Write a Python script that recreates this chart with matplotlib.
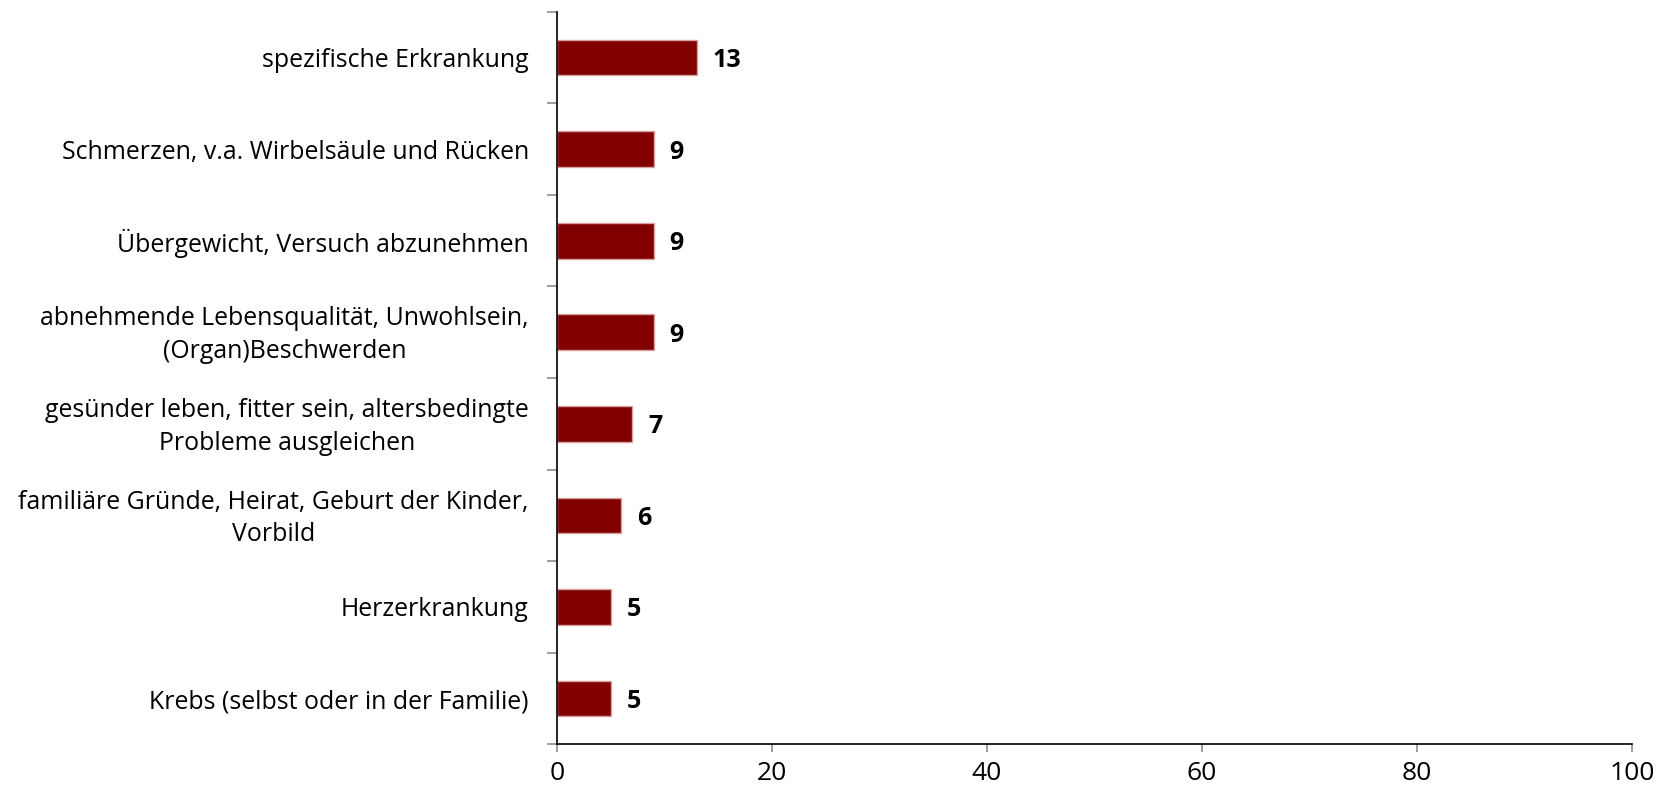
import matplotlib.pyplot as plt

# Gründe für die Verhaltensänderung (Anzahl Nennungen)
categories = [
    "spezifische Erkrankung",
    "Schmerzen, v.a. Wirbelsäule und Rücken",
    "Übergewicht, Versuch abzunehmen",
    "abnehmende Lebensqualität, Unwohlsein,\n(Organ)Beschwerden",
    "gesünder leben, fitter sein, altersbedingte\nProbleme ausgleichen",
    "familiäre Gründe, Heirat, Geburt der Kinder,\nVorbild",
    "Herzerkrankung",
    "Krebs (selbst oder in der Familie)",
]
values = [13, 9, 9, 9, 7, 6, 5, 5]
x_ticks = [0, 20, 40, 60, 80, 100]

BAR_COLOR = "#800000"
FONT = "Open Sans"
plt.rcParams["font.family"] = [FONT, "DejaVu Sans"]

fig = plt.figure(figsize=(16.61, 7.93), dpi=100)
ax = fig.add_axes([0.3352, 0.0614, 0.9824 - 0.3352, 0.9852 - 0.0614])

pos = list(range(len(categories)))
ax.barh(pos, values, height=0.39, color=BAR_COLOR, edgecolor="#d8a0a0", linewidth=1)

for y, v in zip(pos, values):
    ax.annotate(str(v), xy=(v, y), xytext=(16, -3), textcoords="offset pixels",
                ha="left", va="center", fontsize=18, fontweight="bold")

# Kategorienbeschriftungen rechtsbündig, Zeilen untereinander zentriert
for y, label in zip(pos, categories):
    ax.annotate(label, xy=(0, y), xycoords=ax.get_yaxis_transform(),
                xytext=(-28, -3), textcoords="offset pixels",
                ha="right", va="center", multialignment="center",
                fontsize=17.9, linespacing=1.4)

ax.set_xlim(0, 100)
ax.set_ylim(len(categories) - 0.5, -0.5)
ax.set_xticks(x_ticks)
ax.set_xticklabels([str(t) for t in x_ticks], fontsize=19)
ax.set_yticks([p - 0.5 for p in pos] + [len(categories) - 0.5])
ax.set_yticklabels([])

for side in ("top", "right"):
    ax.spines[side].set_visible(False)
for side in ("left", "bottom"):
    ax.spines[side].set_color("black")
    ax.spines[side].set_linewidth(1.2)

ax.tick_params(axis="x", direction="out", length=6, width=1.2, color="#8c8c8c", pad=6)
ax.tick_params(axis="y", direction="out", length=7, width=1.2, color="#8c8c8c")

fig.savefig("out.png", dpi=100)
